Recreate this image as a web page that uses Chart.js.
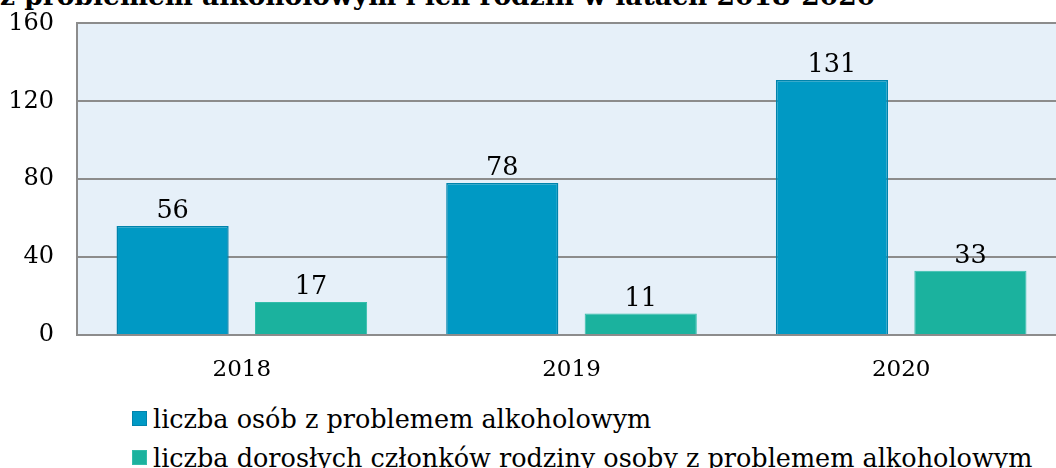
<!DOCTYPE html>
<html>
<head>
<meta charset="utf-8">
<script src="https://cdn.jsdelivr.net/npm/chart.js@4"></script>
<style>
  html, body { margin: 0; padding: 0; width: 1056px; height: 468px; overflow: hidden; background: #fff; }
  #title { position: absolute; left: 0; top: -20px; font: bold 26.5px/31px "DejaVu Serif", serif; color: #000; white-space: nowrap; }
  #wrap { position: absolute; left: 0; top: -14px; width: 1066px; height: 399px; }
  #legend { position: absolute; left: 132px; top: 399px; font: 25.5px "DejaVu Serif", serif; color: #000; }
  .item { display: flex; align-items: center; height: 39px; white-space: nowrap; }
  .box { width: 15px; height: 15px; margin-right: 6px; box-sizing: border-box; }
</style>
</head>
<body>
<div id="title">z problemem alkoholowym i ich rodzin w latach 2018-2020</div>
<div id="wrap"><canvas id="c"></canvas></div>
<div id="legend"></div>
<script>
const categories = ['2018', '2019', '2020'];
const seriesNames = ['liczba osób z problemem alkoholowym', 'liczba dorosłych członków rodziny osoby z problemem alkoholowym'];
const personsWithProblem = [56, 78, 131];
const adultFamilyMembers = [17, 11, 33];
const yTickValues = [0, 40, 80, 120, 160];

const colors = ['#0099C4', '#1BB29E'];
const borders = ['#0083AC', '#33BDAA'];

const plotBg = {
  id: 'plotBg',
  beforeDraw(chart) {
    const { ctx, chartArea: a } = chart;
    ctx.save();
    ctx.fillStyle = '#E6F0F9';
    ctx.fillRect(a.left, a.top, a.right - a.left, a.bottom - a.top);
    ctx.restore();
  }
};

const valueLabels = {
  id: 'valueLabels',
  afterDatasetsDraw(chart) {
    const { ctx } = chart;
    ctx.save();
    ctx.font = '25.5px "DejaVu Serif", serif';
    ctx.fillStyle = '#000';
    ctx.textAlign = 'center';
    ctx.textBaseline = 'alphabetic';
    chart.data.datasets.forEach((ds, i) => {
      chart.getDatasetMeta(i).data.forEach((bar, j) => {
        ctx.fillText(String(ds.data[j]), bar.x, bar.y - 8);
      });
    });
    ctx.restore();
  }
};

new Chart(document.getElementById('c'), {
  type: 'bar',
  data: {
    labels: categories,
    datasets: [
      { label: seriesNames[0], data: personsWithProblem, backgroundColor: colors[0], borderColor: borders[0], borderWidth: 1.5, categoryPercentage: 0.84, barPercentage: 0.81 },
      { label: seriesNames[1], data: adultFamilyMembers, backgroundColor: colors[1], borderColor: borders[1], borderWidth: 1, categoryPercentage: 0.84, barPercentage: 0.81 }
    ]
  },
  options: {
    responsive: true,
    maintainAspectRatio: false,
    animation: false,
    layout: { padding: { top: 10, left: 0, right: 0, bottom: 0 } },
    plugins: { legend: { display: false }, tooltip: { enabled: false }, title: { display: false } },
    scales: {
      x: {
        grid: { display: false, drawTicks: false },
        border: { display: true, color: '#8C8C8C', width: 2 },
        ticks: { color: '#000', font: { family: 'DejaVu Serif', size: 23 }, padding: 21 },
        afterFit(s) { s.height = 50; }
      },
      y: {
        min: 0, max: 160,
        afterBuildTicks(s) { s.ticks = yTickValues.map(v => ({ value: v })); },
        grid: { color: '#8C8C8C', lineWidth: 2, drawTicks: false },
        border: { display: true, color: '#8C8C8C', width: 2 },
        ticks: { color: '#000', font: { family: 'DejaVu Serif', size: 24 }, padding: 23 },
        afterFit(s) { s.width = 77; }
      }
    }
  },
  plugins: [plotBg, valueLabels]
});

const leg = document.getElementById('legend');
seriesNames.forEach((name, i) => {
  const it = document.createElement('div');
  it.className = 'item';
  const b = document.createElement('span');
  b.className = 'box';
  b.style.background = colors[i];
  b.style.border = '1px solid ' + borders[i];
  it.appendChild(b);
  it.appendChild(document.createTextNode(name));
  leg.appendChild(it);
});
</script>
</body>
</html>
